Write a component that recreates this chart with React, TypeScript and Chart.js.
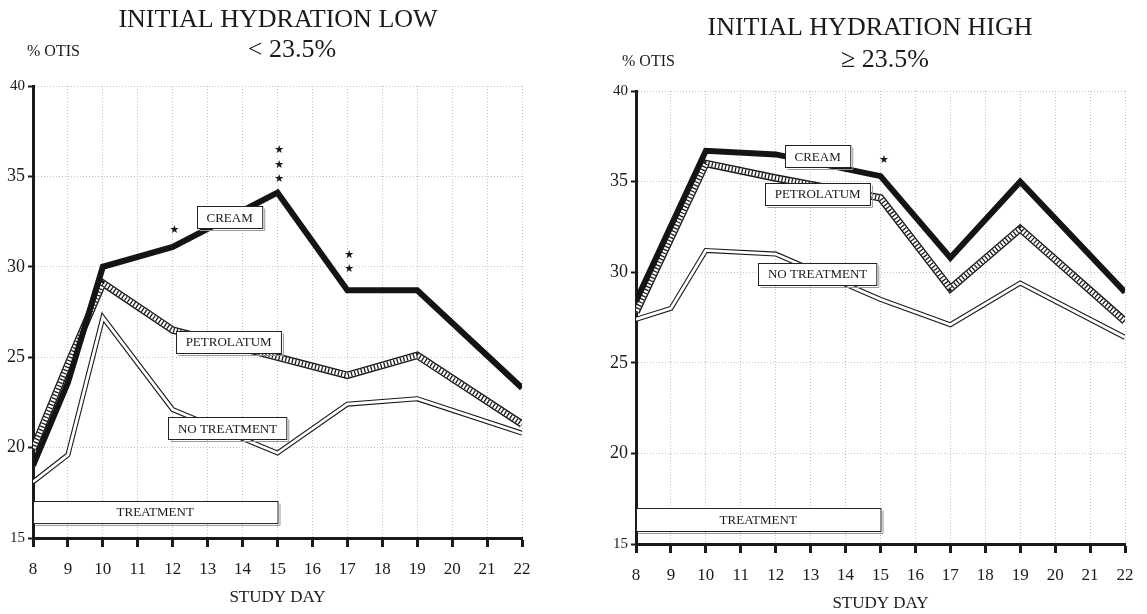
import React, { useEffect, useRef } from "react";
import { Chart, registerables } from "chart.js";

Chart.register(...registerables);

const SERIF = "'Liberation Serif', 'Times New Roman', serif";

// ---------- Data: INITIAL HYDRATION LOW (< 23.5%) ----------
const LOW_DAYS = [8, 9, 10, 12, 15, 17, 19, 22];
const LOW_CREAM = [19.0, 23.6, 30.0, 31.1, 34.1, 28.7, 28.7, 23.3];
const LOW_PETROLATUM = [19.9, 24.6, 29.1, 26.5, 25.0, 24.0, 25.1, 21.3];
const LOW_NO_TREATMENT = [18.1, 19.6, 27.2, 22.1, 19.7, 22.4, 22.7, 20.8];

// ---------- Data: INITIAL HYDRATION HIGH (>= 23.5%) ----------
const HIGH_DAYS = [8, 10, 12, 15, 17, 19, 22];
const HIGH_CREAM = [28.4, 36.7, 36.5, 35.3, 30.8, 35.0, 28.9];
const HIGH_PETROLATUM = [27.8, 36.0, 35.2, 34.1, 29.1, 32.4, 27.3];
const HIGH_NT_DAYS = [8, 9, 10, 12, 15, 17, 19, 22];
const HIGH_NO_TREATMENT = [27.4, 28.0, 31.2, 31.0, 28.5, 27.1, 29.4, 26.4];

// ---------- Axes ----------
const DAY_MIN = 8;
const DAY_MAX = 22;
const OTIS_MIN = 15;
const OTIS_MAX = 40;
const OTIS_STEP = 5;
const TREATMENT_DAYS = [8, 15];

type Kind = "cream" | "petrolatum" | "none";

type PanelCfg = {
  left: number;
  width: number;
  padding: { top: number; right: number; bottom: number; left: number };
  title: string;
  subtitle: string;
  titlePos: [number, number];
  subPos: [number, number];
  otisPos: [number, number];
  series: { days: number[]; values: number[]; kind: Kind }[];
  labels: { text: string; x: number; y: number }[];
  stars: { x: number; y: number }[];
  treatmentY: [number, number];
};

const LOW_PANEL: PanelCfg = {
  left: 0,
  width: 560,
  padding: { top: 86, right: 38, bottom: 6, left: 0 },
  title: "INITIAL HYDRATION LOW",
  subtitle: "< 23.5%",
  titlePos: [278, 20],
  subPos: [292, 50],
  otisPos: [27, 52],
  series: [
    { days: LOW_DAYS, values: LOW_NO_TREATMENT, kind: "none" },
    { days: LOW_DAYS, values: LOW_PETROLATUM, kind: "petrolatum" },
    { days: LOW_DAYS, values: LOW_CREAM, kind: "cream" },
  ],
  labels: [
    { text: "CREAM", x: 13.63, y: 32.75 },
    { text: "PETROLATUM", x: 13.6, y: 25.84 },
    { text: "NO TREATMENT", x: 13.57, y: 21.06 },
  ],
  stars: [
    { x: 12.05, y: 32.0 },
    { x: 15.05, y: 36.45 },
    { x: 15.05, y: 35.65 },
    { x: 15.05, y: 34.85 },
    { x: 17.05, y: 30.65 },
    { x: 17.05, y: 29.85 },
  ],
  treatmentY: [15.83, 17.05],
};

const HIGH_PANEL: PanelCfg = {
  left: 603,
  width: 544,
  padding: { top: 91, right: 22, bottom: 0, left: 0 },
  title: "INITIAL HYDRATION HIGH",
  subtitle: "\u2265 23.5%",
  titlePos: [267, 28],
  subPos: [282, 60],
  otisPos: [19, 62],
  series: [
    { days: HIGH_NT_DAYS, values: HIGH_NO_TREATMENT, kind: "none" },
    { days: HIGH_DAYS, values: HIGH_PETROLATUM, kind: "petrolatum" },
    { days: HIGH_DAYS, values: HIGH_CREAM, kind: "cream" },
  ],
  labels: [
    { text: "CREAM", x: 13.2, y: 36.4 },
    { text: "PETROLATUM", x: 13.2, y: 34.34 },
    { text: "NO TREATMENT", x: 13.2, y: 29.9 },
  ],
  stars: [{ x: 15.1, y: 36.2 }],
  treatmentY: [15.72, 16.99],
};

function makeDatasets(days: number[], values: number[], kind: Kind) {
  const pts = () => days.map((d, i) => ({ x: d, y: values[i] }));
  const base = {
    pointRadius: 0,
    pointHoverRadius: 0,
    tension: 0,
    fill: false,
    borderJoinStyle: "miter" as const,
    borderCapStyle: "butt" as const,
  };
  if (kind === "cream") {
    return [{ ...base, data: pts(), label: "CREAM", borderColor: "#141414", borderWidth: 6, order: 1 }];
  }
  if (kind === "petrolatum") {
    return [
      { ...base, data: pts(), label: "PETROLATUM", borderColor: "#1a1a1a", borderWidth: 7.5, order: 6 },
      { ...base, data: pts(), label: "PETROLATUM_fill", borderColor: "#ffffff", borderWidth: 4.8, order: 5 },
      {
        ...base,
        data: pts(),
        label: "PETROLATUM_hatch",
        borderColor: "#1a1a1a",
        borderWidth: 4.8,
        borderDash: [1.3, 2.1],
        order: 4,
      },
    ];
  }
  return [
    { ...base, data: pts(), label: "NO TREATMENT", borderColor: "#1a1a1a", borderWidth: 5, order: 8 },
    { ...base, data: pts(), label: "NO TREATMENT_inner", borderColor: "#ffffff", borderWidth: 2.8, order: 7 },
  ];
}

function drawBox(ctx: CanvasRenderingContext2D, cx: number, cy: number, w: number, h: number) {
  const x = Math.round(cx - w / 2) + 0.5;
  const y = Math.round(cy - h / 2) + 0.5;
  ctx.fillStyle = "#ffffff";
  ctx.fillRect(x, y, w, h);
  ctx.strokeStyle = "#9a9a9a";
  ctx.lineWidth = 1;
  ctx.beginPath();
  ctx.moveTo(x + 2, y + h + 2);
  ctx.lineTo(x + w + 2, y + h + 2);
  ctx.lineTo(x + w + 2, y + 2);
  ctx.stroke();
  ctx.strokeStyle = "#222";
  ctx.strokeRect(x, y, w, h);
}

function makePlugin(p: PanelCfg) {
  return {
    id: "annotations_" + p.left,
    afterDatasetsDraw(chart: any) {
      const { ctx, scales } = chart;
      const xs = scales.x;
      const ys = scales.y;
      ctx.save();
      // treatment box
      const tx0 = xs.getPixelForValue(TREATMENT_DAYS[0]);
      const tx1 = xs.getPixelForValue(TREATMENT_DAYS[1]);
      const ty0 = ys.getPixelForValue(p.treatmentY[1]);
      const ty1 = ys.getPixelForValue(p.treatmentY[0]);
      drawBox(ctx, (tx0 + tx1) / 2, (ty0 + ty1) / 2, tx1 - tx0, ty1 - ty0);
      ctx.fillStyle = "#1a1a1a";
      ctx.font = `13px ${SERIF}`;
      ctx.textAlign = "center";
      ctx.textBaseline = "middle";
      ctx.fillText("TREATMENT", (tx0 + tx1) / 2, (ty0 + ty1) / 2 + 1);

      // series labels
      for (const l of p.labels) {
        const cx = xs.getPixelForValue(l.x);
        const cy = ys.getPixelForValue(l.y);
        ctx.font = `13px ${SERIF}`;
        const w = ctx.measureText(l.text).width + 19;
        drawBox(ctx, cx, cy, w, 22);
        ctx.fillStyle = "#1a1a1a";
        ctx.textAlign = "center";
        ctx.textBaseline = "middle";
        ctx.fillText(l.text, cx, cy + 1);
      }

      // significance stars
      ctx.font = `11px 'DejaVu Sans', sans-serif`;
      ctx.fillStyle = "#1a1a1a";
      ctx.textAlign = "center";
      ctx.textBaseline = "middle";
      for (const s of p.stars) {
        ctx.fillText("\u2605", xs.getPixelForValue(s.x), ys.getPixelForValue(s.y));
      }
      ctx.restore();
    },
    afterDraw(chart: any) {
      const { ctx } = chart;
      ctx.save();
      ctx.fillStyle = "#1a1a1a";
      ctx.textBaseline = "middle";
      ctx.textAlign = "center";
      ctx.font = `26px ${SERIF}`;
      ctx.fillText(p.title, p.titlePos[0], p.titlePos[1]);
      ctx.font = `26px ${SERIF}`;
      ctx.fillText(p.subtitle, p.subPos[0], p.subPos[1]);
      ctx.textAlign = "left";
      ctx.font = `16px ${SERIF}`;
      ctx.fillText("% OTIS", p.otisPos[0], p.otisPos[1]);
      ctx.restore();
    },
  };
}

function buildConfig(p: PanelCfg): any {
  const datasets = p.series.flatMap((s) => makeDatasets(s.days, s.values, s.kind));
  return {
    type: "line",
    data: { datasets },
    plugins: [makePlugin(p)],
    options: {
      responsive: false,
      animation: false,
      devicePixelRatio: 1,
      events: [],
      layout: { padding: p.padding },
      plugins: {
        legend: { display: false },
        tooltip: { enabled: false },
        title: { display: false },
      },
      scales: {
        x: {
          type: "linear",
          min: DAY_MIN,
          max: DAY_MAX,
          ticks: {
            stepSize: 1,
            autoSkip: false,
            maxRotation: 0,
            color: "#1a1a1a",
            padding: 12,
            font: { family: SERIF, size: 17 },
          },
          grid: {
            color: "#c4c4c4",
            lineWidth: 1,
            drawTicks: true,
            tickLength: 9,
            tickWidth: 3,
            tickColor: "#1a1a1a",
          },
          border: { display: true, color: "#1a1a1a", width: 3, dash: [1, 2] },
          title: {
            display: true,
            text: "STUDY DAY",
            color: "#1a1a1a",
            font: { family: SERIF, size: 17 },
            padding: 0,
          },
          afterFit: (s: any) => {
            s.height = 70;
            s.paddingLeft = 0;
            s.paddingRight = 0;
          },
        },
        y: {
          type: "linear",
          min: OTIS_MIN,
          max: OTIS_MAX,
          ticks: {
            stepSize: OTIS_STEP,
            color: "#1a1a1a",
            padding: 3,
            font: (c: any) => ({
              family: SERIF,
              size: c.tick && (c.tick.value === OTIS_MAX || c.tick.value === OTIS_MIN) ? 15 : 18,
            }),
          },
          grid: {
            color: "#c4c4c4",
            lineWidth: 1,
            drawTicks: true,
            tickLength: 5,
            tickWidth: 2,
            tickColor: "#1a1a1a",
          },
          border: { display: true, color: "#1a1a1a", width: 3, dash: [1, 2] },
          afterFit: (s: any) => {
            s.width = 33;
            s.paddingTop = 0;
            s.paddingBottom = 0;
          },
        },
      },
    },
  };
}

function Panel({ cfg }: { cfg: PanelCfg }) {
  const ref = useRef<HTMLCanvasElement>(null);
  useEffect(() => {
    if (!ref.current) return;
    const chart = new Chart(ref.current, buildConfig(cfg));
    return () => chart.destroy();
  }, [cfg]);
  return (
    <canvas
      ref={ref}
      width={cfg.width}
      height={614}
      style={{ position: "absolute", left: cfg.left, top: 0, width: cfg.width, height: 614 }}
    />
  );
}

export default function App() {
  return (
    <div
      style={{
        position: "fixed",
        left: 0,
        top: 0,
        width: 1147,
        height: 614,
        background: "#ffffff",
        overflow: "hidden",
      }}
    >
      <Panel cfg={LOW_PANEL} />
      <Panel cfg={HIGH_PANEL} />
    </div>
  );
}
